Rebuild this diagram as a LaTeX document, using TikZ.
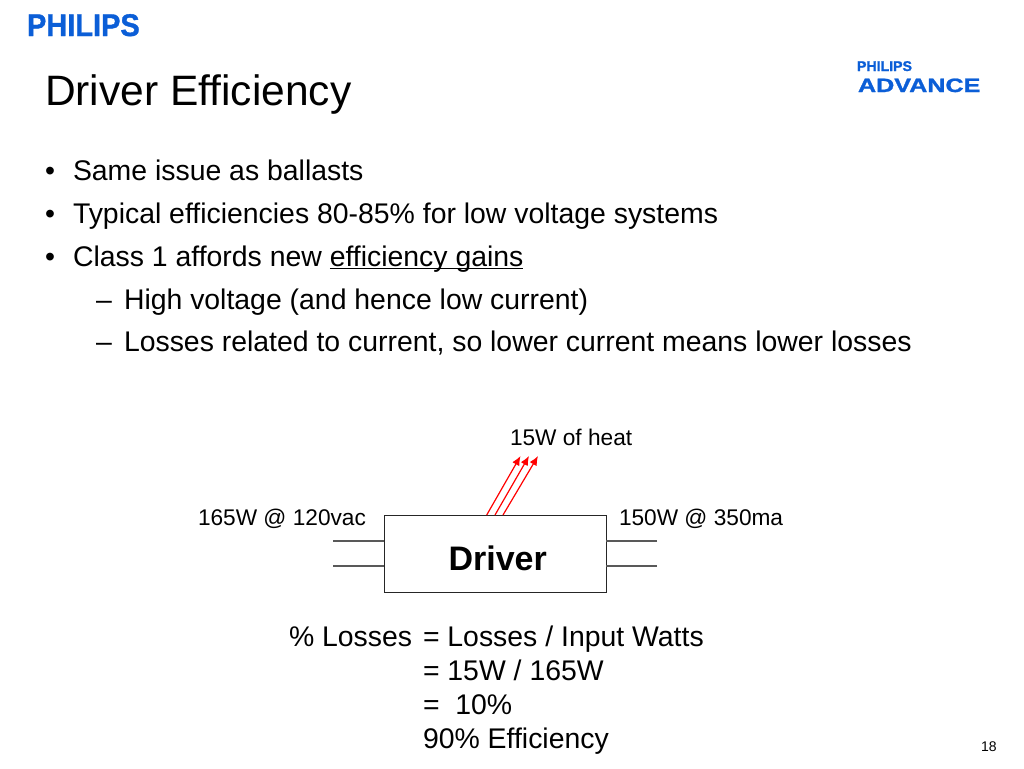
\documentclass[tikz,border=0pt]{standalone}
\usepackage{fontspec}
\setmainfont{Liberation Sans}
\newfontfamily\logofont[FakeBold=1.2]{Liberation Sans Bold}
\usetikzlibrary{arrows.meta}
\definecolor{philipsblue}{HTML}{0B5ED7}
\newcommand\lowline[1]{\leavevmode\setbox0\hbox{#1}\rlap{\rule[-2.6pt]{\wd0}{1.1pt}}\box0}
\tikzset{
  txt/.style={anchor=base west,inner sep=0pt,outer sep=0pt,text=black},
  bodytext/.style={txt,font=\fontsize{21.3}{25}\selectfont},
  titletext/.style={txt,font=\fontsize{31.9}{36}\selectfont},
  labeltext/.style={txt,font=\fontsize{17}{20}\selectfont},
  mathtext/.style={txt,font=\fontsize{21.3}{25}\selectfont},
  logotext/.style={anchor=base west,inner sep=0pt,outer sep=0pt,text=philipsblue},
  lead/.style={draw=black!65,line width=0.9pt},
  heat/.style={draw=red,line width=0.9pt,-{Latex[length=7pt,width=6pt]}},
}
\begin{document}
\begin{tikzpicture}[x=0.75pt,y=-0.75pt]
\useasboundingbox (0,0) rectangle (1024,768);
\fill[white] (0,0) rectangle (1024,768);
% logos
\node[logotext,font=\fontsize{23.5}{26}\logofont\selectfont,xscale=0.925] (logoA) at (27,36) {PHILIPS};
\node[logotext,font=\fontsize{10.6}{12}\logofont\selectfont] (logoB) at (857,71) {PHILIPS};
\node[logotext,font=\fontsize{14.5}{16}\logofont\selectfont,xscale=1.3] (logoC) at (858,92) {ADVANCE};
% title
\node[titletext] (title) at (45,105) {Driver Efficiency};
% bullets
\node[bodytext] (b1m) at (45,180) {•};
\node[bodytext] (b1) at (73,180) {Same issue as ballasts};
\node[bodytext] (b2m) at (45,223) {•};
\node[bodytext] (b2) at (73,223) {Typical efficiencies 80-85\% for low voltage systems};
\node[bodytext] (b3m) at (45,266) {•};
\node[bodytext] (b3) at (73,266) {Class 1 affords new \lowline{efficiency gains}};
\node[bodytext] (b4m) at (96,309) {–};
\node[bodytext] (b4) at (124,309) {High voltage (and hence low current)};
\node[bodytext] (b5m) at (96,351) {–};
\node[bodytext] (b5) at (124,351) {Losses related to current, so lower current means lower losses};
% diagram
\node[draw=black!85,line width=0.7pt,minimum width=166.5pt,minimum height=57.75pt,inner sep=0pt,text height=26.2pt,text depth=0pt,font=\fontsize{25.5}{28}\bfseries\selectfont] (driver) at (495,553.5) {\hspace*{4pt}Driver};
\coordinate (inA) at (333,541);
\coordinate (inB) at (333,566);
\coordinate (outA) at (657,541);
\coordinate (outB) at (657,566);
\draw[lead] (inA) -- (inA -| driver.west);
\draw[lead] (inB) -- (inB -| driver.west);
\draw[lead] (outA) -- (outA -| driver.east);
\draw[lead] (outB) -- (outB -| driver.east);
\coordinate (hA) at (486.7,515);
\coordinate (hB) at (495,515);
\coordinate (hC) at (503,515);
\coordinate (tA) at (520.5,456);
\coordinate (tB) at (529,456);
\coordinate (tC) at (538,456);
\draw[heat] (hA) -- (tA);
\draw[heat] (hB) -- (tB);
\draw[heat] (hC) -- (tC);
\node[labeltext] (heatlabel) at (510,445) {15W of heat};
\node[labeltext] (inlabel) at (198,525) {165W @ 120vac};
\node[labeltext] (outlabel) at (619,525) {150W @ 350ma};
% calc
\node[mathtext] (m1a) at (289,646) {\% Losses};
\node[mathtext] (m1b) at (423,646) {= Losses / Input Watts};
\node[mathtext] (m2) at (423,680) {= 15W / 165W};
\node[mathtext] (m3) at (423,714) {=\ \ 10\%};
\node[mathtext] (m4) at (423,748) {90\% Efficiency};
\node[txt,font=\fontsize{10.5}{12}\selectfont] (page) at (981,751) {18};
\end{tikzpicture}
\end{document}
